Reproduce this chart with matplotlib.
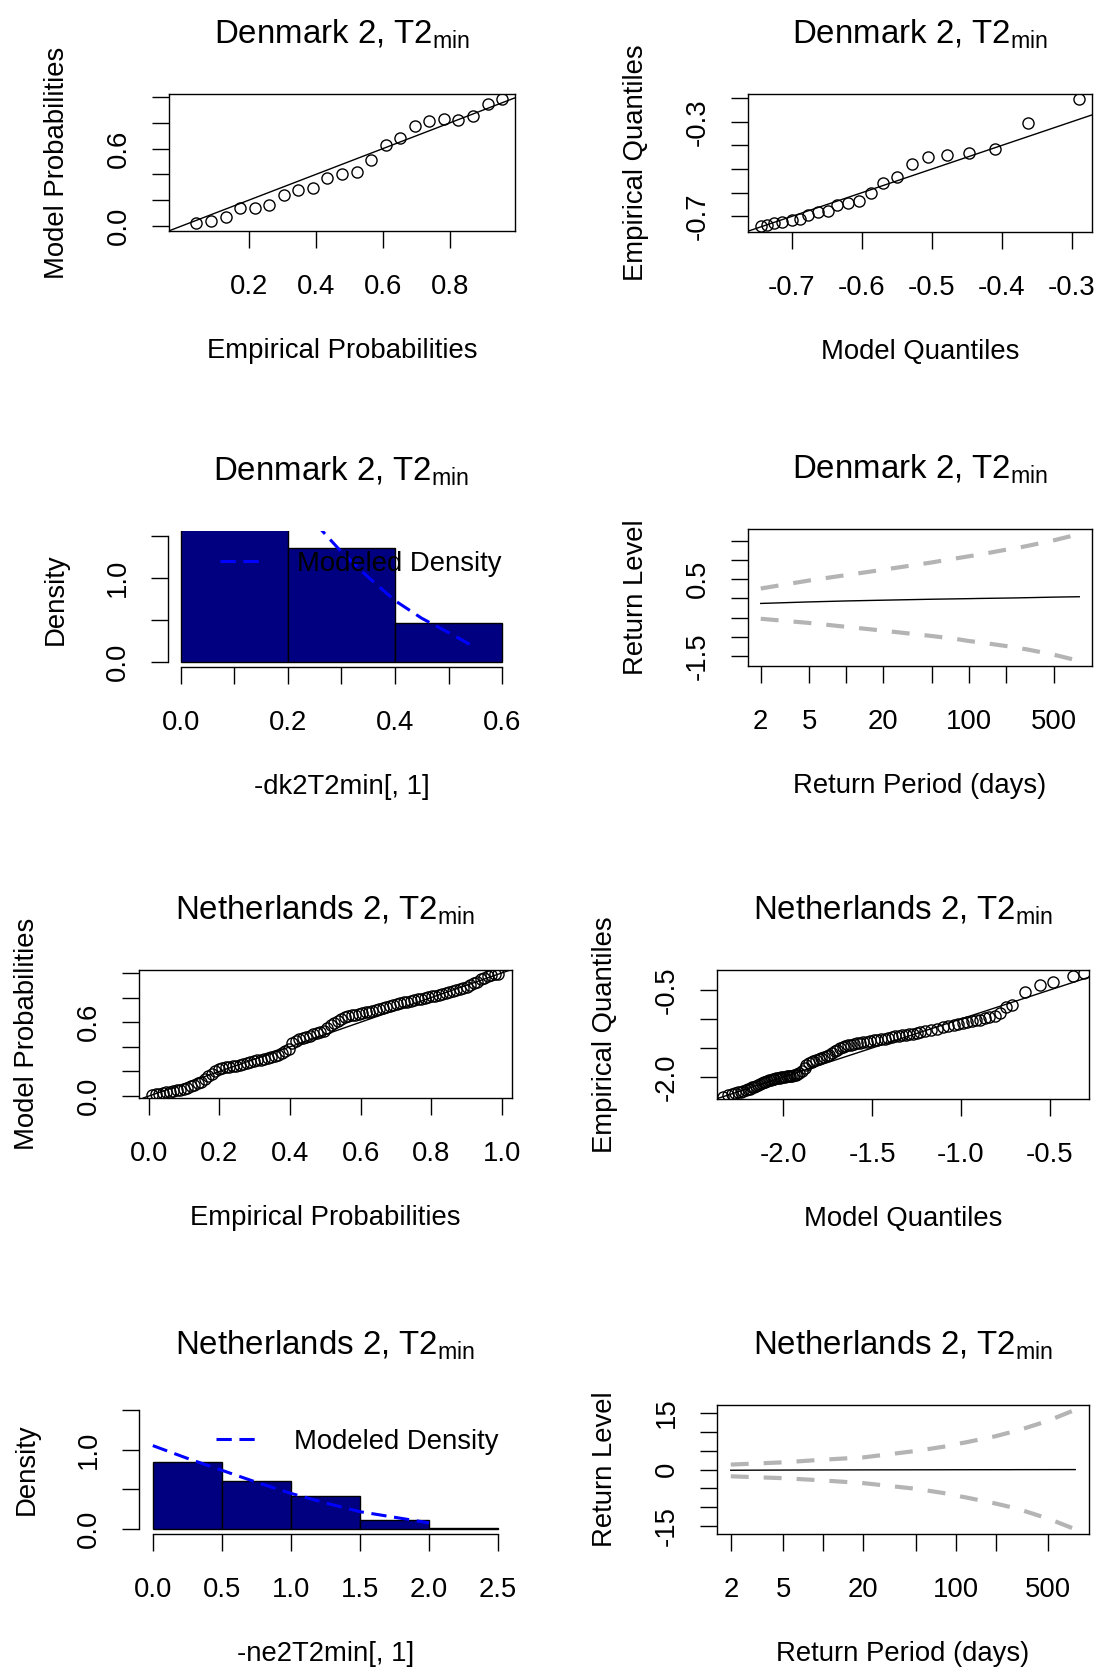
import numpy as np
import matplotlib
matplotlib.use("Agg")
import matplotlib.pyplot as plt
from matplotlib.lines import Line2D

plt.rcParams["font.family"] = ["Liberation Sans", "DejaVu Sans"]
plt.rcParams["mathtext.fontset"] = "custom"
plt.rcParams["mathtext.rm"] = "Liberation Sans"
plt.rcParams["mathtext.it"] = "Liberation Sans:italic"

# ---- Denmark 2, T2min ----
dk_model_prob = [0.025, 0.038, 0.073, 0.136, 0.136, 0.164, 0.240, 0.278, 0.295, 0.376, 0.404,
                 0.422, 0.515, 0.629, 0.679, 0.775, 0.813, 0.831, 0.826, 0.851, 0.947, 0.985]
dk_model_q = [-0.744, -0.735, -0.725, -0.713, -0.700, -0.688, -0.676, -0.662, -0.648, -0.635, -0.620,
              -0.604, -0.587, -0.569, -0.549, -0.528, -0.505, -0.478, -0.447, -0.409, -0.362, -0.289]
dk_emp_q = [-0.741, -0.735, -0.729, -0.724, -0.716, -0.710, -0.694, -0.680, -0.676, -0.652, -0.642,
            -0.633, -0.602, -0.560, -0.532, -0.478, -0.447, -0.440, -0.430, -0.416, -0.306, -0.204]
dk_breaks = [0.0, 0.2, 0.4, 0.6]
dk_density = [3.18, 1.36, 0.46]
dk_dens_x = [0.25, 0.30, 0.35, 0.40, 0.45, 0.50, 0.545]
dk_dens_y = [1.66, 1.31, 1.01, 0.73, 0.52, 0.35, 0.19]

# return periods used by the return level plots
rperiods = [2, 5, 10, 20, 50, 80, 100, 120, 200, 250, 300, 500, 800]
dk_rl = [-0.13, -0.09, -0.065, -0.045, -0.02, -0.01, -0.005, 0.0, 0.01, 0.015, 0.02, 0.035, 0.045]
dk_rl_hi = [0.26, 0.47, 0.61, 0.75, 0.94, 1.05, 1.10, 1.14, 1.27, 1.32, 1.37, 1.52, 1.68]
dk_rl_lo = [-0.53, -0.64, -0.74, -0.84, -0.98, -1.06, -1.11, -1.14, -1.24, -1.29, -1.33, -1.47, -1.63]

# ---- Netherlands 2, T2min ----
nl_model_prob = [0.010, 0.013, 0.018, 0.022, 0.030, 0.034, 0.040, 0.045, 0.052, 0.058,
                 0.066, 0.078, 0.090, 0.105, 0.118, 0.135, 0.160, 0.178, 0.205, 0.222,
                 0.228, 0.233, 0.238, 0.243, 0.248, 0.253, 0.260, 0.268, 0.276, 0.283,
                 0.290, 0.296, 0.302, 0.309, 0.318, 0.326, 0.337, 0.348, 0.362, 0.380,
                 0.430, 0.450, 0.462, 0.472, 0.480, 0.490, 0.500, 0.510, 0.520, 0.532,
                 0.555, 0.575, 0.595, 0.612, 0.628, 0.642, 0.650, 0.656, 0.662, 0.668,
                 0.672, 0.679, 0.686, 0.693, 0.700, 0.708, 0.716, 0.724, 0.732, 0.740,
                 0.748, 0.755, 0.761, 0.767, 0.773, 0.779, 0.785, 0.791, 0.797, 0.803,
                 0.809, 0.816, 0.823, 0.830, 0.838, 0.845, 0.852, 0.859, 0.866, 0.874,
                 0.885, 0.900, 0.915, 0.930, 0.948, 0.962, 0.972, 0.980, 0.988, 0.995]
nl_model_q = [-2.34, -2.31, -2.29, -2.27, -2.255, -2.24, -2.225, -2.21, -2.20, -2.19,
              -2.175, -2.165, -2.155, -2.14, -2.13, -2.12, -2.11, -2.10, -2.09, -2.08,
              -2.07, -2.06, -2.05, -2.04, -2.03, -2.02, -2.01, -2.00, -1.99, -1.98,
              -1.97, -1.96, -1.95, -1.94, -1.93, -1.92, -1.91, -1.895, -1.88, -1.87,
              -1.855, -1.84, -1.83, -1.815, -1.80, -1.785, -1.77, -1.755, -1.74, -1.725,
              -1.71, -1.695, -1.68, -1.665, -1.65, -1.633, -1.616, -1.60, -1.583, -1.566,
              -1.549, -1.53, -1.51, -1.49, -1.47, -1.45, -1.43, -1.41, -1.39, -1.37,
              -1.35, -1.33, -1.31, -1.29, -1.27, -1.25, -1.23, -1.20, -1.17, -1.135,
              -1.10, -1.07, -1.04, -1.015, -0.99, -0.965, -0.94, -0.915, -0.89, -0.865,
              -0.84, -0.81, -0.78, -0.745, -0.71, -0.64, -0.555, -0.48, -0.37, -0.307]
nl_emp_q = [-2.34, -2.31, -2.29, -2.27, -2.26, -2.25, -2.235, -2.22, -2.21, -2.20,
            -2.18, -2.17, -2.16, -2.14, -2.12, -2.11, -2.09, -2.08, -2.07, -2.06,
            -2.05, -2.04, -2.03, -2.025, -2.02, -2.01, -2.005, -2.00, -1.995, -1.99,
            -1.985, -1.98, -1.975, -1.97, -1.96, -1.95, -1.93, -1.90, -1.85, -1.80,
            -1.76, -1.74, -1.72, -1.70, -1.685, -1.67, -1.655, -1.64, -1.62, -1.59,
            -1.56, -1.53, -1.50, -1.48, -1.465, -1.45, -1.44, -1.43, -1.42, -1.41,
            -1.40, -1.39, -1.38, -1.37, -1.36, -1.35, -1.34, -1.33, -1.315, -1.30,
            -1.29, -1.28, -1.27, -1.26, -1.25, -1.24, -1.23, -1.21, -1.19, -1.165,
            -1.14, -1.12, -1.10, -1.085, -1.07, -1.055, -1.04, -1.025, -1.01, -0.99,
            -0.96, -0.94, -0.90, -0.80, -0.76, -0.54, -0.41, -0.36, -0.25, -0.21]
nl_breaks = [0.0, 0.5, 1.0, 1.5, 2.0, 2.5]
nl_density = [0.846, 0.611, 0.413, 0.115, 0.02]
nl_dens_x = [0.0, 0.25, 0.5, 0.75, 1.0, 1.25, 1.5, 1.75, 2.0]
nl_dens_y = [1.05, 0.89, 0.74, 0.59, 0.45, 0.33, 0.22, 0.15, 0.08]
nl_rl = [-0.2, -0.15, -0.12, -0.1, -0.08, -0.07, -0.06, -0.06, -0.05, -0.05, -0.04, -0.03, -0.02]
nl_rl_hi = [1.3, 1.9, 2.6, 3.2, 4.9, 6.0, 6.7, 7.2, 8.8, 9.7, 10.4, 12.9, 15.8]
nl_rl_lo = [-1.8, -2.3, -2.9, -3.6, -5.1, -6.2, -6.9, -7.4, -9.0, -9.8, -10.5, -13.0, -15.8]


def plotting_positions(n):
    # empirical probabilities i/(n+1)
    return np.arange(1, n + 1) / (n + 1)


W, H = 1097, 1675
PX = 0.72  # points per pixel at dpi 100
FS = 19.8
fig = plt.figure(figsize=(W / 100, H / 100), dpi=100)


def add_panel(x0, y0, x1, y1):
    return fig.add_axes([x0 / W, 1 - y1 / H, (x1 - x0) / W, (y1 - y0) / H])


def decorate(ax, title, xlabel, ylabel):
    ax.annotate(title, xy=(0.5, 1), xycoords="axes fraction", xytext=(0, 50 * PX),
                textcoords="offset points", ha="center", va="baseline", fontsize=FS * 1.2)
    ax.annotate(xlabel, xy=(0.5, 0), xycoords="axes fraction", xytext=(0, -120 * PX),
                textcoords="offset points", ha="center", va="center", fontsize=FS)
    ax.annotate(ylabel, xy=(0, 0.5), xycoords="axes fraction", xytext=(-112 * PX, 0),
                textcoords="offset points", ha="center", va="center", rotation=90, fontsize=FS)
    for sp in ax.spines.values():
        sp.set_linewidth(1.0)


def set_ticks(ax, xt, xl, yt, yl):
    ax.set_xticks(xt)
    ax.set_xticklabels(xl)
    ax.set_yticks(yt)
    ax.set_yticklabels(yl, rotation=90, va="center", ha="center")
    ax.tick_params(length=17 * PX, width=1.0, direction="out", labelsize=FS)
    ax.tick_params(axis="x", pad=26 * PX)
    ax.tick_params(axis="y", pad=33 * PX)
    ax.minorticks_off()


def pp_panel(ax, model_prob):
    emp = plotting_positions(len(model_prob))
    ax.plot(emp, model_prob, "o", mfc="none", mec="black", ms=8, mew=1.0)
    ax.axline((0, 0), slope=1, color="black", lw=1.0)


def qq_panel(ax, model_q, emp_q):
    ax.plot(model_q, emp_q, "o", mfc="none", mec="black", ms=8, mew=1.0)
    ax.axline((model_q[0], model_q[0]), slope=1, color="black", lw=1.0)


def hist_panel(ax, breaks, dens, dx, dy, xlim, leg_xy):
    ax.bar(breaks[:-1], dens, width=np.diff(breaks), align="edge",
           color="navy", edgecolor="black", linewidth=1.0)
    ax.plot(dx, dy, color="blue", lw=2.2, dashes=(5, 2.5))
    ax.set_xlim(*xlim)
    ax.set_ylim(-0.06, 1.56)
    for side in ("top", "right"):
        ax.spines[side].set_visible(False)
    ax.spines["bottom"].set_bounds(breaks[0], breaks[-1])
    ax.spines["left"].set_bounds(0, 1.5)
    handle = Line2D([], [], color="blue", lw=2.2, dashes=(5, 2.5))
    ax.legend([handle], ["Modeled Density"], loc="center right", bbox_to_anchor=leg_xy,
              frameon=False, borderpad=0, borderaxespad=0, handlelength=1.46,
              handletextpad=1.35, fontsize=FS)


def rl_panel(ax, rl, hi, lo):
    ax.set_xscale("log")
    ax.plot(rperiods, rl, color="black", lw=1.0)
    ax.plot(rperiods, hi, color="#b4b4b4", lw=3.0, dashes=(4.3, 3.6))
    ax.plot(rperiods, lo, color="#b4b4b4", lw=3.0, dashes=(4.3, 3.6))
    ax.margins(0.04)


rl_ticks = [2, 5, 10, 20, 50, 100, 200, 500]
rl_tick_labels = ["2", "5", "", "20", "", "100", "", "500"]

dk_title = r"Denmark 2, T2$_{\mathrm{min}}$"
nl_title = r"Netherlands 2, T2$_{\mathrm{min}}$"

# Denmark, probability plot
ax = add_panel(169, 94, 515, 231)
pp_panel(ax, dk_model_prob)
ax.margins(0.04)
set_ticks(ax, [0.2, 0.4, 0.6, 0.8], ["0.2", "0.4", "0.6", "0.8"],
          [0, 0.2, 0.4, 0.6, 0.8, 1.0], ["0.0", "", "", "0.6", "", ""])
decorate(ax, dk_title, "Empirical Probabilities", "Model Probabilities")

# Denmark, quantile plot
ax = add_panel(748, 94, 1092, 232)
qq_panel(ax, dk_model_q, dk_emp_q)
ax.margins(0.04)
set_ticks(ax, [-0.7, -0.6, -0.5, -0.4, -0.3], ["-0.7", "-0.6", "-0.5", "-0.4", "-0.3"],
          [-0.7, -0.6, -0.5, -0.4, -0.3, -0.2], ["-0.7", "", "", "", "-0.3", ""])
decorate(ax, dk_title, "Model Quantiles", "Empirical Quantiles")

# Denmark, density
ax = add_panel(168, 531, 515, 667)
hist_panel(ax, dk_breaks, dk_density, dk_dens_x, dk_dens_y, (-0.024, 0.624), (0.9625, 0.757))
set_ticks(ax, [0, 0.1, 0.2, 0.3, 0.4, 0.5, 0.6], ["0.0", "", "0.2", "", "0.4", "", "0.6"],
          [0, 0.5, 1.0, 1.5], ["0.0", "", "1.0", ""])
decorate(ax, dk_title, "-dk2T2min[, 1]", "Density")

# Denmark, return levels
ax = add_panel(748, 529, 1092, 666)
rl_panel(ax, dk_rl, dk_rl_hi, dk_rl_lo)
set_ticks(ax, rl_ticks, rl_tick_labels,
          [-1.5, -1.0, -0.5, 0.0, 0.5, 1.0, 1.5], ["-1.5", "", "", "", "0.5", "", ""])
decorate(ax, dk_title, "Return Period (days)", "Return Level")

# Netherlands, probability plot
ax = add_panel(139, 970, 512, 1098)
pp_panel(ax, nl_model_prob)
ax.set_xlim(-0.028, 1.029)
ax.set_ylim(-0.016, 1.024)
set_ticks(ax, [0, 0.2, 0.4, 0.6, 0.8, 1.0], ["0.0", "0.2", "0.4", "0.6", "0.8", "1.0"],
          [0, 0.2, 0.4, 0.6, 0.8, 1.0], ["0.0", "", "", "0.6", "", ""])
decorate(ax, nl_title, "Empirical Probabilities", "Model Probabilities")

# Netherlands, quantile plot
ax = add_panel(717, 970, 1089, 1099)
qq_panel(ax, nl_model_q, nl_emp_q)
ax.set_xlim(-2.373, -0.279)
ax.set_ylim(-2.379, -0.155)
set_ticks(ax, [-2.0, -1.5, -1.0, -0.5], ["-2.0", "-1.5", "-1.0", "-0.5"],
          [-2.0, -1.5, -1.0, -0.5], ["-2.0", "", "", "-0.5"])
decorate(ax, nl_title, "Model Quantiles", "Empirical Quantiles")

# Netherlands, density
ax = add_panel(139, 1405, 512, 1534)
hist_panel(ax, nl_breaks, nl_density, nl_dens_x, nl_dens_y, (-0.1, 2.6), (0.9625, 0.713))
set_ticks(ax, [0, 0.5, 1.0, 1.5, 2.0, 2.5], ["0.0", "0.5", "1.0", "1.5", "2.0", "2.5"],
          [0, 0.5, 1.0, 1.5], ["0.0", "", "1.0", ""])
decorate(ax, nl_title, "-ne2T2min[, 1]", "Density")

# Netherlands, return levels
ax = add_panel(717, 1405, 1089, 1534)
rl_panel(ax, nl_rl, nl_rl_hi, nl_rl_lo)
set_ticks(ax, rl_ticks, rl_tick_labels,
          [-15, -10, -5, 0, 5, 10, 15], ["-15", "", "", "0", "", "", "15"])
decorate(ax, nl_title, "Return Period (days)", "Return Level")

fig.savefig("out.png", dpi=100)
